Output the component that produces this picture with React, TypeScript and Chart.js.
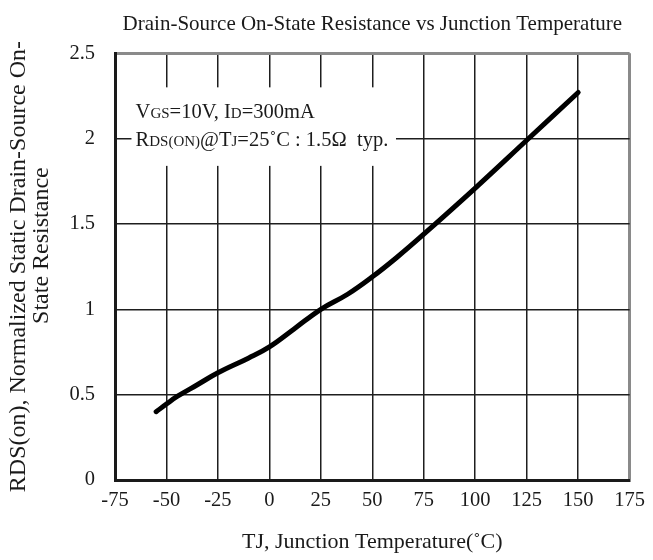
import React, { useEffect, useRef } from "react";
import { Chart, registerables } from "chart.js";

Chart.register(...registerables);

const FONT = "'Liberation Serif', 'Times New Roman', serif";

const temperatures = [-55, -50, -45, -35, -25, -10, 0, 12, 25, 38, 50, 62, 75, 100, 125, 150];
const resistance = [0.4, 0.445, 0.488, 0.558, 0.628, 0.715, 0.78, 0.885, 1.0, 1.088, 1.19, 1.305, 1.44, 1.71, 1.99, 2.27];

const xTickValues = [-75, -50, -25, 0, 25, 50, 75, 100, 125, 150, 175];
const yTickValues = [0, 0.5, 1, 1.5, 2, 2.5];

const chartTitle = "Drain-Source On-State Resistance vs Junction Temperature";
const xTitle = "TJ, Junction Temperature(˚C)";
const yTitle = ["RDS(on), Normalized Static Drain-Source On-", "       State Resistance"];

// [text, isSmall]
const noteLine1: [string, boolean][] = [["V", false], ["GS", true], ["=10V, I", false], ["D", true], ["=300mA", false]];
const noteLine2: [string, boolean][] = [["R", false], ["DS(ON)", true], ["@T", false], ["J", true], ["=25˚C : 1.5Ω  typ.", false]];

const notePlugin = {
  id: "notePlugin",
  beforeDatasetsDraw(chart: any) {
    const { ctx } = chart;
    const xs = chart.scales.x;
    const ys = chart.scales.y;
    const left = xs.getPixelForValue(-67);
    const right = xs.getPixelForValue(61.5);
    const top = ys.getPixelForValue(2.3);
    const bottom = ys.getPixelForValue(1.84);
    ctx.save();
    ctx.fillStyle = "#ffffff";
    ctx.fillRect(left, top, right - left, bottom - top);
    ctx.fillStyle = "#1a1a1a";
    ctx.textBaseline = "alphabetic";
    ctx.textAlign = "left";
    const drawLine = (segs: [string, boolean][], yVal: number) => {
      let x = xs.getPixelForValue(-65);
      const y = ys.getPixelForValue(yVal) + 7;
      for (const [t, small] of segs) {
        ctx.font = `${small ? 15 : 20.5}px ${FONT}`;
        ctx.fillText(t, x, y);
        x += ctx.measureText(t).width;
      }
    };
    drawLine(noteLine1, 2.16);
    drawLine(noteLine2, 2.0);
    ctx.restore();
  },
};

export default function App() {
  const canvasRef = useRef<HTMLCanvasElement | null>(null);

  useEffect(() => {
    document.body.style.margin = "0";
    const canvas = canvasRef.current;
    if (!canvas) return;
    const gridColor = (c: any, edge: number) =>
      c.tick && c.tick.value === edge ? "#8a8a8a" : "#1e1e1e";
    const gridWidth = (c: any, edge: number) =>
      c.tick && c.tick.value === edge ? 3 : 1.5;

    const chart = new Chart(canvas, {
      type: "line",
      data: {
        datasets: [
          {
            data: temperatures.map((t, i) => ({ x: t, y: resistance[i] })),
            borderColor: "#000000",
            borderWidth: 5,
            borderCapStyle: "round",
            borderJoinStyle: "round",
            pointRadius: 0,
            tension: 0.4,
            fill: false,
          },
        ],
      },
      options: {
        responsive: false,
        animation: false,
        devicePixelRatio: 1,
        layout: { padding: { left: 0, right: 19, top: 0, bottom: 0 } },
        plugins: {
          legend: { display: false },
          tooltip: { enabled: false },
          title: {
            display: true,
            text: chartTitle,
            fullSize: false,
            color: "#1a1a1a",
            font: { family: FONT, size: 21, weight: "normal" },
            padding: { top: 12, bottom: 16 },
          },
        },
        scales: {
          x: {
            type: "linear",
            min: -75,
            max: 175,
            afterBuildTicks: (s: any) => {
              s.ticks = xTickValues.map((v) => ({ value: v }));
            },
            afterFit: (s: any) => {
              s.height = 80;
            },
            ticks: {
              color: "#1a1a1a",
              font: { family: FONT, size: 20.5 },
              padding: 8,
              maxRotation: 0,
              autoSkip: false,
              callback: (v: any) => String(v),
            },
            grid: {
              drawTicks: false,
              color: (c: any) => gridColor(c, 175),
              lineWidth: (c: any) => gridWidth(c, 175),
            },
            border: { display: true, color: "#1a1a1a", width: 3 },
            title: {
              display: true,
              text: xTitle,
              color: "#1a1a1a",
              font: { family: FONT, size: 22 },
              padding: { top: 0, bottom: 5 },
            },
          },
          y: {
            type: "linear",
            min: 0,
            max: 2.5,
            afterBuildTicks: (s: any) => {
              s.ticks = yTickValues.map((v) => ({ value: v }));
            },
            afterFit: (s: any) => {
              s.width = 115;
            },
            ticks: {
              color: "#1a1a1a",
              font: { family: FONT, size: 20.5 },
              padding: 20,
              callback: (v: any) => String(v),
            },
            grid: {
              drawTicks: false,
              color: (c: any) => gridColor(c, 2.5),
              lineWidth: (c: any) => gridWidth(c, 2.5),
            },
            border: { display: true, color: "#1a1a1a", width: 3 },
            title: {
              display: true,
              text: yTitle,
              color: "#1a1a1a",
              font: { family: FONT, size: 24, lineHeight: 0.96 },
              padding: { top: 7, bottom: 0 },
            },
          },
        },
      },
      plugins: [notePlugin],
    } as any);

    return () => chart.destroy();
  }, []);

  return <canvas ref={canvasRef} width={653} height={560} style={{ display: "block" }} />;
}
